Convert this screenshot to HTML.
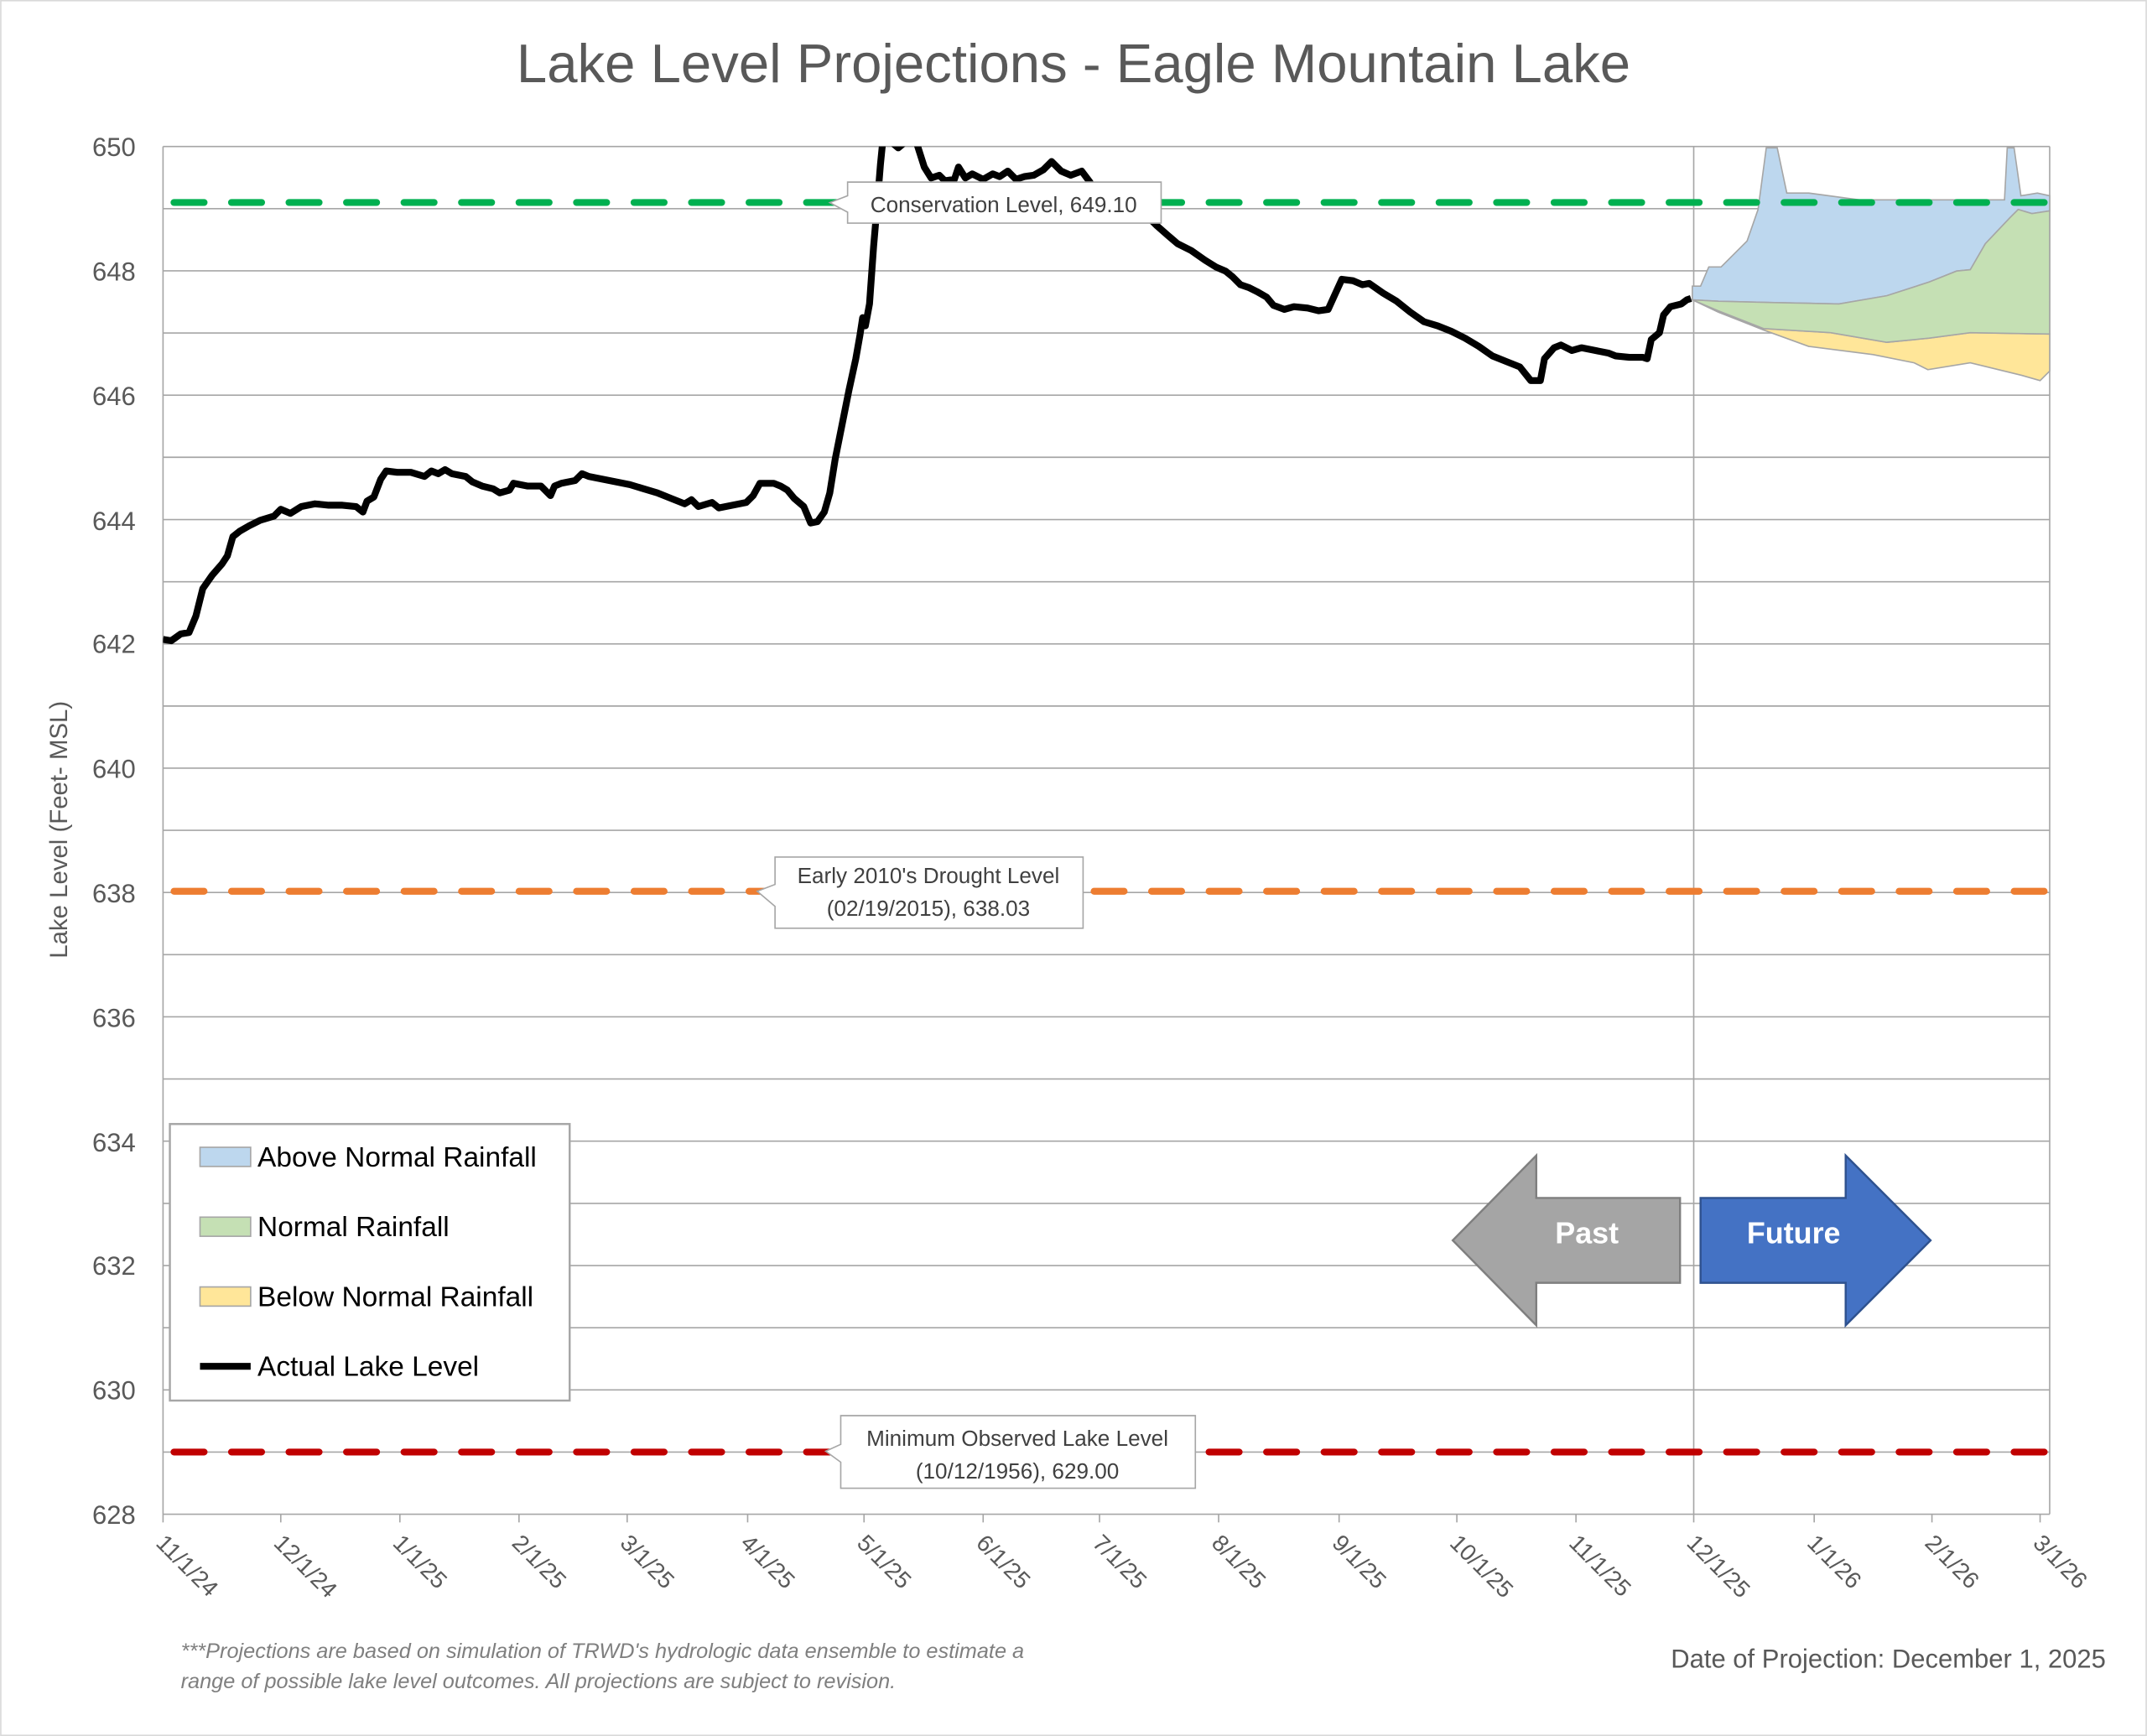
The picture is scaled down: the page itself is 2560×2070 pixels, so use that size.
<!DOCTYPE html>
<html><head><meta charset="utf-8"><style>html,body{margin:0;padding:0;background:#fff}svg{display:block}</style></head>
<body>
<svg width="2560" height="2070" viewBox="0 0 1568 1268" xmlns="http://www.w3.org/2000/svg" font-family="Liberation Sans, sans-serif">
<rect width="1568" height="1268" fill="#fff"/>
<rect x="0.5" y="0.5" width="1567" height="1267" fill="none" stroke="#d9d9d9"/>
<text x="784" y="60" font-size="40" fill="#595959" text-anchor="middle">Lake Level Projections - Eagle Mountain Lake</text>
<!-- grid -->
<g stroke="#a6a6a6" stroke-width="1">
<line x1="119" y1="107" x2="1497" y2="107"/><line x1="119" y1="152.4" x2="1497" y2="152.4"/><line x1="119" y1="197.8" x2="1497" y2="197.8"/><line x1="119" y1="243.2" x2="1497" y2="243.2"/><line x1="119" y1="288.6" x2="1497" y2="288.6"/><line x1="119" y1="334" x2="1497" y2="334"/><line x1="119" y1="379.5" x2="1497" y2="379.5"/><line x1="119" y1="424.9" x2="1497" y2="424.9"/><line x1="119" y1="470.3" x2="1497" y2="470.3"/><line x1="119" y1="515.7" x2="1497" y2="515.7"/><line x1="119" y1="561.1" x2="1497" y2="561.1"/><line x1="119" y1="606.5" x2="1497" y2="606.5"/><line x1="119" y1="651.9" x2="1497" y2="651.9"/><line x1="119" y1="697.3" x2="1497" y2="697.3"/><line x1="119" y1="742.7" x2="1497" y2="742.7"/><line x1="119" y1="788.1" x2="1497" y2="788.1"/><line x1="119" y1="833.5" x2="1497" y2="833.5"/><line x1="119" y1="879" x2="1497" y2="879"/><line x1="119" y1="924.4" x2="1497" y2="924.4"/><line x1="119" y1="969.8" x2="1497" y2="969.8"/><line x1="119" y1="1015.2" x2="1497" y2="1015.2"/><line x1="119" y1="1060.6" x2="1497" y2="1060.6"/>
<line x1="119" y1="107" x2="119" y2="1106"/><line x1="1497" y1="107" x2="1497" y2="1106"/><line x1="1237" y1="107" x2="1237" y2="1106"/>
<line x1="119" y1="1106" x2="1497" y2="1106"/>
<g><line x1="119" y1="1106" x2="119" y2="1112"/><line x1="205" y1="1106" x2="205" y2="1112"/><line x1="292" y1="1106" x2="292" y2="1112"/><line x1="379" y1="1106" x2="379" y2="1112"/><line x1="458" y1="1106" x2="458" y2="1112"/><line x1="546" y1="1106" x2="546" y2="1112"/><line x1="631" y1="1106" x2="631" y2="1112"/><line x1="718" y1="1106" x2="718" y2="1112"/><line x1="803" y1="1106" x2="803" y2="1112"/><line x1="890" y1="1106" x2="890" y2="1112"/><line x1="978" y1="1106" x2="978" y2="1112"/><line x1="1064" y1="1106" x2="1064" y2="1112"/><line x1="1151" y1="1106" x2="1151" y2="1112"/><line x1="1237" y1="1106" x2="1237" y2="1112"/><line x1="1325" y1="1106" x2="1325" y2="1112"/><line x1="1411" y1="1106" x2="1411" y2="1112"/><line x1="1490" y1="1106" x2="1490" y2="1112"/></g>
</g>
<!-- projections -->
<g stroke="#a6a6a6" stroke-width="1">
<polygon fill="#bdd7ee" points="1236,209 1242,209 1248,195 1257,195 1276,176 1284,153 1290,108 1298,108 1305,141 1321,141 1358,146 1415,146 1464,146 1466,108 1471,108 1476,143 1488,141 1497,143 1497,154 1484,156 1474,153 1468,159 1450,178 1439,197 1429,198 1409,206 1378,216 1343,222 1296,221 1255,220 1236,219"/>
<polygon fill="#ffe699" points="1236,219 1255,228 1288,241 1321,253 1368,259 1398,265 1408,270 1439,265 1476,274 1490,278 1497,271 1497,244 1439,243 1409,247 1378,250 1337,243 1288,240 1255,227"/>
<polygon fill="#c5e0b4" points="1236,219 1255,220 1296,221 1343,222 1378,216 1409,206 1429,198 1439,197 1450,178 1468,159 1474,153 1484,156 1497,154 1497,244 1439,243 1409,247 1378,250 1337,243 1288,240 1255,227"/>
</g>
<!-- reference lines -->
<g stroke-width="5" stroke-dasharray="22,20" stroke-linecap="round" fill="none">
<line x1="127" y1="147.9" x2="1497" y2="147.9" stroke="#00b050"/>
<line x1="127" y1="651" x2="1497" y2="651" stroke="#ed7d31"/>
<line x1="127" y1="1060.6" x2="1497" y2="1060.6" stroke="#c00000"/>
</g>
<!-- actual -->
<clipPath id="c"><rect x="119" y="107" width="1378" height="1000"/></clipPath>
<polyline clip-path="url(#c)" fill="none" stroke="#000" stroke-width="5" stroke-linejoin="round" points="119,467 125,468 132,463 138,462 143,450 148,430 155,420 162,412 166,406 170,392 175,388 182,384 190,380 200,377 205,372 212,375 220,370 230,368 240,369 250,369 260,370 265,374 268,366 273,363 278,350 282,344 290,345 300,345 310,348 315,344 320,346 325,343 330,346 340,348 345,352 352,355 360,357 365,360 372,358 375,353 385,355 395,355 402,362 405,355 410,353 420,351 425,346 430,348 440,350 450,352 460,354 470,357 480,360 490,364 500,368 505,365 510,370 520,367 525,371 535,369 545,367 550,362 555,353 565,353 570,355 575,358 580,364 587,370 592,382 597,381 602,374 606,360 610,335 615,310 620,285 625,262 628,245 630,232 632,238 635,222 638,180 641,145 643,120 645,100 650,103 656,108 662,103 668,100 675,122 680,130 686,128 690,132 697,131 700,122 705,130 710,127 718,131 725,127 730,129 736,125 742,131 748,129 755,128 762,124 768,118 775,125 782,128 790,125 796,133 800,140 810,145 820,148 830,152 838,158 845,165 853,172 860,178 870,183 880,190 888,195 895,198 900,202 906,208 912,210 918,213 925,217 930,223 938,226 945,224 955,225 963,227 970,226 975,215 980,204 988,205 995,208 1000,207 1010,214 1020,220 1030,228 1040,235 1050,238 1060,242 1070,247 1080,253 1090,260 1100,264 1110,268 1118,278 1125,278 1128,262 1135,254 1140,252 1148,256 1155,254 1165,256 1175,258 1180,260 1190,261 1200,261 1203,262 1206,248 1212,243 1215,230 1220,224 1228,222 1232,219 1235,218"/>
<!-- callouts -->
<g fill="#fff" stroke="#a6a6a6" stroke-width="1">
<path d="M619,133 H848 V163 H619 V155 L606,148 L619,143 Z"/>
<path d="M566,626 H791 V678 H566 V662 L553,651 L566,646 Z"/>
<path d="M614,1034 H873 V1087 H614 V1068 L603,1060 L614,1055 Z"/>
</g>
<g font-size="16" fill="#404040" text-anchor="middle">
<text x="733" y="155">Conservation Level, 649.10</text>
<text x="678" y="645">Early 2010's Drought Level</text>
<text x="678" y="669">(02/19/2015), 638.03</text>
<text x="743" y="1056">Minimum Observed Lake Level</text>
<text x="743" y="1080">(10/12/1956), 629.00</text>
</g>
<!-- y axis -->
<g font-size="19" fill="#595959" text-anchor="end">
<text x="99" y="114">650</text><text x="99" y="205">648</text><text x="99" y="296">646</text><text x="99" y="387">644</text><text x="99" y="477">642</text><text x="99" y="568">640</text><text x="99" y="659">638</text><text x="99" y="750">636</text><text x="99" y="841">634</text><text x="99" y="931">632</text><text x="99" y="1022">630</text><text x="99" y="1113">628</text>
</g>
<text transform="translate(49,606) rotate(-90)" font-size="18" fill="#595959" text-anchor="middle">Lake Level (Feet- MSL)</text>
<g font-size="17" fill="#595959">
<text transform="translate(113,1128) rotate(45)">11/1/24</text>
<text transform="translate(199,1128) rotate(45)">12/1/24</text>
<text transform="translate(286,1128) rotate(45)">1/1/25</text>
<text transform="translate(373,1128) rotate(45)">2/1/25</text>
<text transform="translate(452,1128) rotate(45)">3/1/25</text>
<text transform="translate(540,1128) rotate(45)">4/1/25</text>
<text transform="translate(625,1128) rotate(45)">5/1/25</text>
<text transform="translate(712,1128) rotate(45)">6/1/25</text>
<text transform="translate(797,1128) rotate(45)">7/1/25</text>
<text transform="translate(884,1128) rotate(45)">8/1/25</text>
<text transform="translate(972,1128) rotate(45)">9/1/25</text>
<text transform="translate(1058,1128) rotate(45)">10/1/25</text>
<text transform="translate(1145,1128) rotate(45)">11/1/25</text>
<text transform="translate(1231,1128) rotate(45)">12/1/25</text>
<text transform="translate(1319,1128) rotate(45)">1/1/26</text>
<text transform="translate(1405,1128) rotate(45)">2/1/26</text>
<text transform="translate(1484,1128) rotate(45)">3/1/26</text>
</g>
<!-- legend -->
<rect x="124" y="821" width="292" height="202" fill="#fff" stroke="#a6a6a6" stroke-width="1.5"/>
<rect x="146" y="838" width="37" height="14" fill="#bdd7ee" stroke="#a6a6a6"/>
<rect x="146" y="889" width="37" height="14" fill="#c5e0b4" stroke="#a6a6a6"/>
<rect x="146" y="940" width="37" height="14" fill="#ffe699" stroke="#a6a6a6"/>
<line x1="146" y1="998" x2="183" y2="998" stroke="#000" stroke-width="5"/>
<g font-size="20.5" fill="#000">
<text x="188" y="852">Above Normal Rainfall</text>
<text x="188" y="903">Normal Rainfall</text>
<text x="188" y="954">Below Normal Rainfall</text>
<text x="188" y="1005">Actual Lake Level</text>
</g>
<!-- arrows -->
<polygon points="1227,875 1122,875 1122,844 1061,906 1122,968 1122,937 1227,937" fill="#a5a5a5" stroke="#7f7f7f" stroke-width="1.5"/>
<polygon points="1242,875 1348,875 1348,844 1410,906 1348,968 1348,937 1242,937" fill="#4472c4" stroke="#2f528f" stroke-width="1.5"/>
<text x="1159" y="908" font-size="22" font-weight="bold" fill="#fff" text-anchor="middle">Past</text>
<text x="1310" y="908" font-size="22" font-weight="bold" fill="#fff" text-anchor="middle">Future</text>
<!-- footer -->
<g font-size="15.5" font-style="italic" fill="#7f7f7f">
<text x="132" y="1211">***Projections are based on simulation of TRWD's hydrologic data ensemble to estimate a</text>
<text x="132" y="1233">range of possible lake level outcomes.  All projections are subject to revision.</text>
</g>
<text x="1538" y="1218" font-size="19" fill="#595959" text-anchor="end">Date of Projection: December 1, 2025</text>
</svg>
</body></html>
